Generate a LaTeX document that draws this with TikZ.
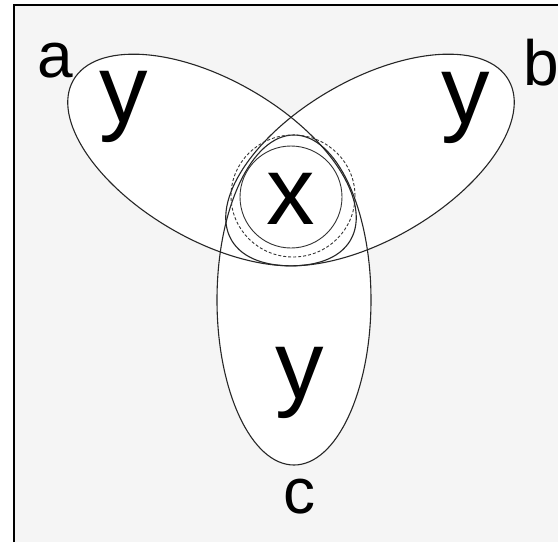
\documentclass[tikz,border=0pt]{standalone}
\usepackage{fontspec}
\setmainfont{Liberation Sans}

\begin{document}
\begin{tikzpicture}[x=1pt,y=-1pt,
   set/.style={draw=black!85,line width=1.1pt},
   inner/.style={draw=black!80,line width=0.9pt},
   big/.style={anchor=base,inner sep=0pt,font=\fontsize{97}{100}\selectfont},
   lbl/.style={anchor=base,inner sep=0pt,font=\fontsize{64}{66}\selectfont}]

   \useasboundingbox (0,0) rectangle (558,542);
   \fill [white] (0,0) rectangle (558,542);
   \fill [black!4] (14,5) rectangle (558,542);
   \draw [line width=2pt] (14,542) -- (14,5) -- (558,5);

   % the three sets
   \fill [white,rotate around={-30:(212,160)}] (212,160) ellipse [x radius=160pt,y radius=80pt];
   \fill [white,rotate around={30:(370,160)}] (370,160) ellipse [x radius=160pt,y radius=80pt];
   \fill [white] (294,300) ellipse [x radius=77pt,y radius=165pt];
   \draw [set,rotate around={-30:(212,160)}] (212,160) ellipse [x radius=160pt,y radius=80pt];
   \draw [set,rotate around={30:(370,160)}] (370,160) ellipse [x radius=160pt,y radius=80pt];
   \draw [set] (294,300) ellipse [x radius=77pt,y radius=165pt];

   % the common part
   \draw [inner,densely dashed] (293,196) ellipse [x radius=62pt,y radius=61pt];
   \draw [inner] (291,197) circle [radius=51pt];

   \node[big] (x)  at (291,224) {x};
   \node[big] (ya) at (124,122) {y};
   \node[big] (yb) at (466,123) {y};
   \node[big] (yc) at (300,398) {y};

   \node[lbl] (a) at (55,77) {a};
   \node[lbl] (b) at (541,85) {b};
   \node[lbl] (c) at (299,513) {c};

\end{tikzpicture}
\end{document}
